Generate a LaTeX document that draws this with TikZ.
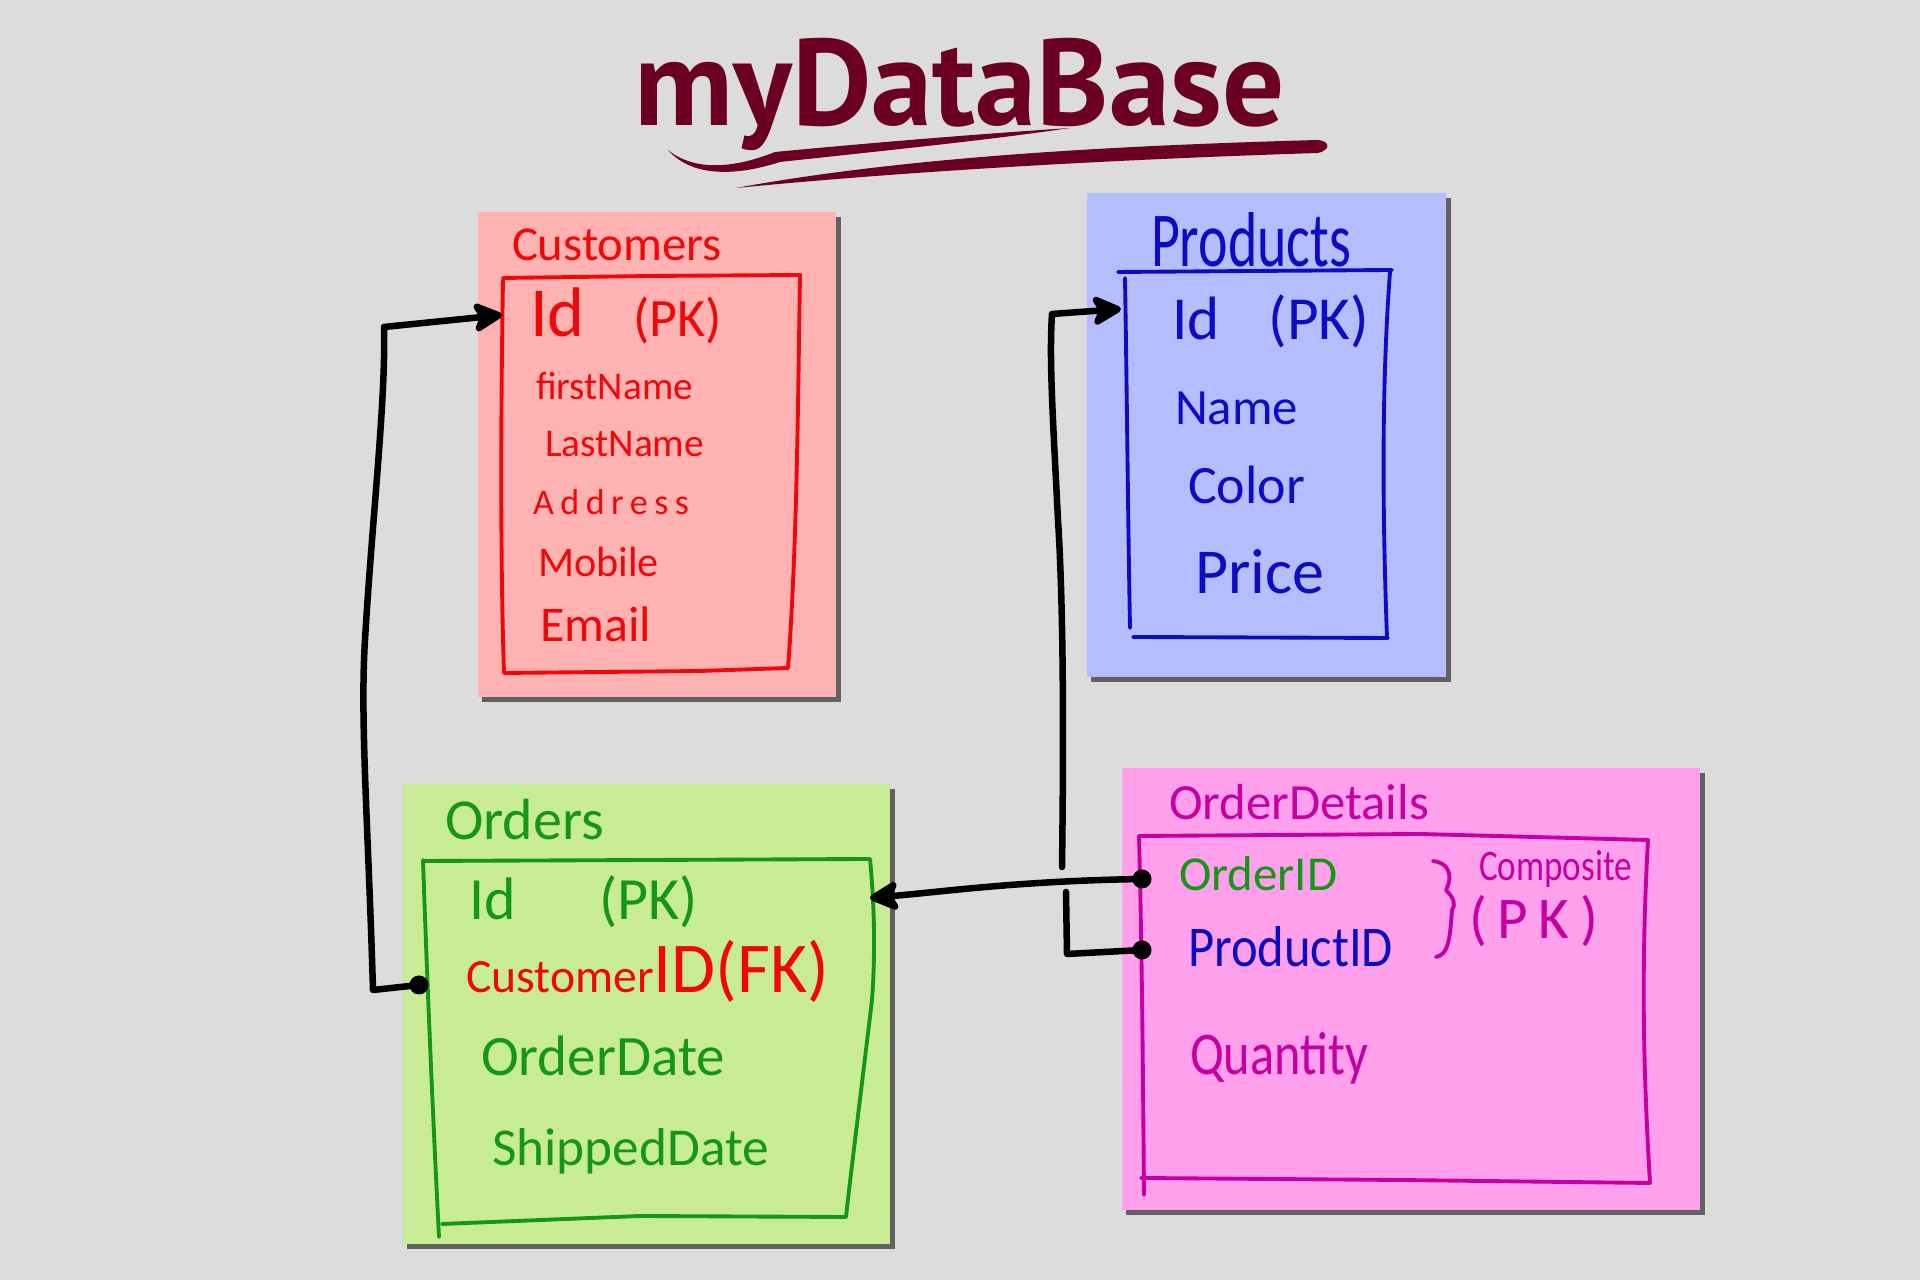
\documentclass[tikz,border=0pt]{standalone}
\usepackage{fontspec}
\usepackage{graphicx}
\setmainfont{Carlito}
\newfontfamily\titlefont{PT Sans}
\usetikzlibrary{arrows.meta}
\definecolor{bgc}{RGB}{220,220,220}
\definecolor{custfill}{RGB}{255,178,178}
\definecolor{custline}{RGB}{240,8,8}
\definecolor{prodfill}{RGB}{180,190,255}
\definecolor{prodline}{RGB}{12,12,195}
\definecolor{ordfill}{RGB}{200,236,150}
\definecolor{ordline}{RGB}{22,150,22}
\definecolor{detfill}{RGB}{255,160,236}
\definecolor{detline}{RGB}{198,0,160}
\definecolor{maroon}{RGB}{108,0,36}
\newlength\pxu
\setlength\pxu{0.01cm}
\newcommand\fitw[2]{\resizebox{#1\pxu}{!}{#2}}
\newcommand\fitwh[3]{\resizebox{#1\pxu}{#2\pxu}{#3}}
\tikzset{
  lbl/.style={anchor=west,inner sep=0pt,outer sep=0pt},
  shadowbox/.style={fill=black!62},
  inner/.style={line width=1.1pt,line join=round,line cap=round},
  conn/.style={line width=1.85pt,line join=round,line cap=round,black},
  tip/.style={-{Stealth[length=10pt,width=10pt,inset=2.5pt,round]}},
  dot/.style={circle,fill=black,minimum size=0.19cm,inner sep=0pt}
}
\begin{document}
\begin{tikzpicture}[x=0.01cm,y=-0.01cm]
\useasboundingbox (0,0) rectangle (1920,1280);
\fill[bgc] (0,0) rectangle (1920,1280);

% ---------- title ----------
\node[anchor=base west,inner sep=0pt,text=maroon] (title) at (634,126)
  {\fitw{650}{\titlefont\bfseries myDataBase}};
\fill[maroon] (668,150) .. controls (695,172) and (735,168) .. (775,152)
  .. controls (880,142) and (980,134) .. (1070,128)
  .. controls (990,140) and (890,150) .. (780,162)
  .. controls (730,178) and (690,175) .. (668,150) -- cycle;
\fill[maroon] (736,188) .. controls (900,158) and (1100,146) .. (1318,140)
  .. controls (1330,141) and (1331,150) .. (1318,153)
  .. controls (1100,160) and (900,172) .. (736,188) -- cycle;

% ---------- Customers ----------
\fill[shadowbox] (482,217) rectangle (841,702);
\fill[custfill] (478,212) rectangle (836,697);
\draw[inner,custline] (503,278) -- (650,276) -- (800,275)
  .. controls (798,400) and (797,550) .. (788,668)
  -- (700,671) -- (505,673);
\draw[inner,custline] (503,280) .. controls (501,400) and (500,550) .. (504,673);
\begin{scope}[text=custline]
\node[lbl] (cT) at (512,245) {\fitw{210}{Customers}};
\node[lbl] (c1) at (530,316) {\fitw{192}{\scalebox{1.3}{Id}\hspace{0.9em}(PK)}};
\node[lbl] (c2) at (536,386) {\fitw{157}{firstName}};
\node[lbl] (c3) at (545,444) {\fitw{159}{LastName}};
\node[lbl] (c4) at (533,502) {\fitw{156}{\addfontfeature{LetterSpace=18}Address}};
\node[lbl] (c5) at (538,562) {\fitw{121}{Mobile}};
\node[lbl] (c6) at (540,624) {\fitw{111}{Email}};
\end{scope}

% ---------- Products ----------
\fill[shadowbox] (1091,198) rectangle (1451,682);
\fill[prodfill] (1087,193) rectangle (1446,677);
\draw[inner,prodline] (1118,272) -- (1392,270);
\draw[inner,prodline] (1125,278) .. controls (1127,400) and (1128,520) .. (1130,628);
\draw[inner,prodline] (1133,637) -- (1388,638);
\draw[inner,prodline] (1390,272) .. controls (1382,380) and (1382,500) .. (1387,638);
\begin{scope}[text=prodline]
\node[lbl] (pT) at (1151,240) {\fitwh{200}{54}{Products}};
\node[lbl] (p1) at (1172,321) {\fitw{197}{Id\hspace{0.8em}(PK)}};
\node[lbl] (p2) at (1175,408) {\fitw{123}{Name}};
\node[lbl] (p3) at (1188,485) {\fitw{117}{Color}};
\node[lbl] (p4) at (1195,572) {\fitw{129}{Price}};
\end{scope}

% ---------- Orders ----------
\fill[shadowbox] (407,789) rectangle (895,1249);
\fill[ordfill] (403,784) rectangle (890,1244);
\draw[inner,ordline] (424,861) -- (650,860) -- (870,859)
  .. controls (875,910) and (875,960) .. (872,1000)
  .. controls (860,1100) and (850,1180) .. (846,1217)
  -- (640,1216) -- (442,1224);
\draw[inner,ordline] (423,860) .. controls (426,950) and (432,1100) .. (439,1237);
\begin{scope}[text=ordline]
\node[lbl] (oT) at (445,820) {\fitw{159}{Orders}};
\node[lbl] (o1) at (469,902) {\fitw{229}{Id\hspace{1.4em}(PK)}};
\node[lbl,text=custline] (o2) at (466,971) {\fitw{363}{Customer\scalebox{1.5}{ID(FK)}}};
\node[lbl] (o3) at (481,1056) {\fitw{244}{OrderDate}};
\node[lbl] (o4) at (492,1151) {\fitw{277}{ShippedDate}};
\end{scope}

% ---------- OrderDetails ----------
\fill[shadowbox] (1126,773) rectangle (1705,1215);
\fill[detfill] (1122,768) rectangle (1700,1210);
\draw[inner,detline] (1139,836) -- (1420,834) -- (1648,840)
  .. controls (1642,950) and (1642,1050) .. (1650,1183)
  -- (1400,1180) -- (1141,1178);
\draw[inner,detline] (1139,836) .. controls (1142,950) and (1143,1080) .. (1144,1195);
\begin{scope}[text=detline]
\node[lbl] (dT) at (1169,802) {\fitw{260}{OrderDetails}};
\node[lbl,text=ordline] (d1) at (1179,874) {\fitw{158}{OrderID}};
\node[lbl,text=prodline] (d2) at (1188,947) {\fitwh{205}{40}{ProductID}};
\node[lbl] (d3) at (1190,1058) {\fitwh{178}{42}{Quantity}};
\node[lbl] (d4) at (1479,869) {\fitwh{153}{30}{Composite}};
\node[lbl] (d5) at (1469,921) {\fitw{129}{\fontsize{17pt}{19pt}\selectfont\addfontfeature{LetterSpace=18}(PK)}};
\end{scope}
\draw[inner,detline] (1433,861) .. controls (1445,862) and (1455,872) .. (1446,890)
  .. controls (1454,898) and (1456,905) .. (1452,910)
  .. controls (1450,940) and (1448,955) .. (1436,957);

% ---------- connectors ----------
\node[dot] (dA) at (419,985) {};
\coordinate (a1) at (373,990);
\coordinate (a2) at (384,327);
\coordinate (tA) at (502,315);
\draw[conn,tip] (dA.center) -- (a1)
  .. controls (368,820) and (360,720) .. (365,640)
  .. controls (372,520) and (386,400) .. (a2) -- (tA);

\node[dot] (dB) at (1142,879) {};
\coordinate (tB) at (870,898);
\draw[conn,tip] (dB.center) .. controls (1020,881) and (950,891) .. (tB);

\node[dot] (dC) at (1142,950) {};
\coordinate (b1) at (1067,954);
\coordinate (b2) at (1066,892);
\coordinate (b3) at (1062,867);
\coordinate (b4) at (1052,314);
\coordinate (tC) at (1121,309);
\draw[conn] (dC.center) -- (b1) -- (b2);
\draw[conn,tip] (b3) .. controls (1064,720) and (1063,600) .. (1058,520)
  .. controls (1053,420) and (1049,360) .. (b4) -- (tC);
\end{tikzpicture}
\end{document}
